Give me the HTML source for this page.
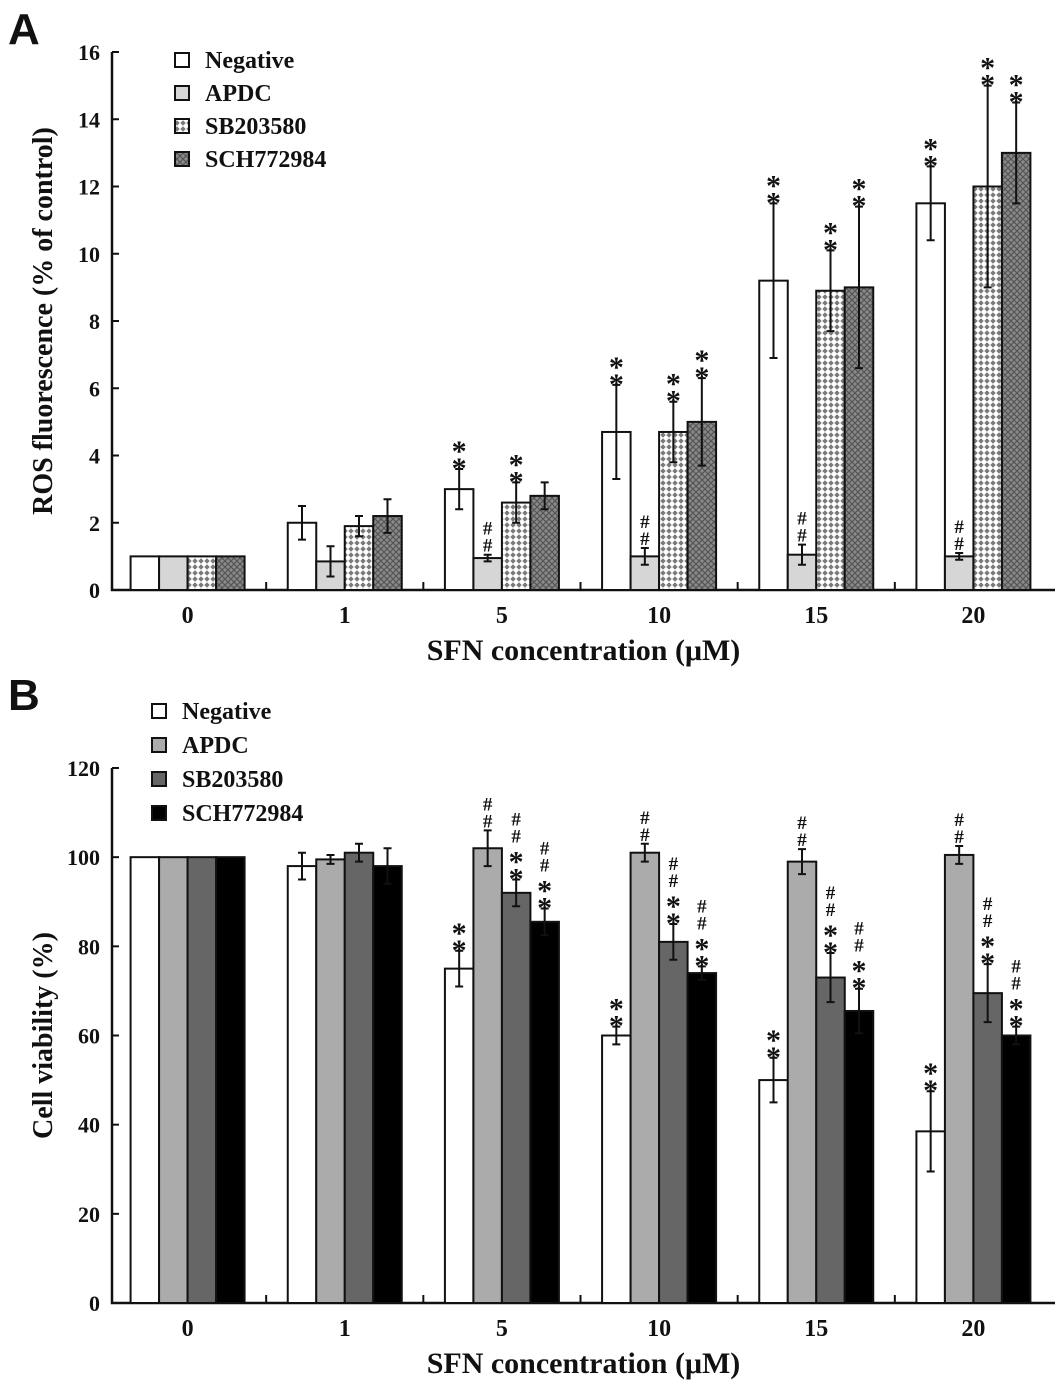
<!DOCTYPE html>
<html><head><meta charset="utf-8"><style>
html,body{margin:0;padding:0;background:#fff;}
svg text{font-family:"Liberation Serif",serif;font-weight:bold;fill:#111;}
</style></head><body>
<svg id="chart" width="1063" height="1393" viewBox="0 0 1063 1393" xmlns="http://www.w3.org/2000/svg">
<defs>
<pattern id="pSB" width="6" height="6" patternUnits="userSpaceOnUse">
<rect width="6" height="6" fill="#fff"/><path d="M3 0.3 L5.7 3 L3 5.7 L0.3 3Z" fill="#7a7a7a"/>
</pattern>
<pattern id="pSCH" width="6" height="6" patternUnits="userSpaceOnUse">
<rect width="6" height="6" fill="#8a8a8a"/><path d="M0 0L6 6M6 0L0 6" stroke="#555" stroke-width="1.2"/>
</pattern>
</defs>
<g id="panelA"></g>
<g id="panelB"></g>
</svg>
<script>
const categories=["0","1","5","10","15","20"];
const seriesNames=["Negative","APDC","SB203580","SCH772984"];
// Panel A
const aNeg=[1,2,3,4.7,9.2,11.5];
const aNegErr=[0,0.5,0.6,1.4,2.3,1.1];
const aAPDC=[1,0.85,0.95,1.0,1.05,1.0];
const aAPDCErr=[0,0.45,0.1,0.25,0.3,0.1];
const aSB=[1,1.9,2.6,4.7,8.9,12];
const aSBErr=[0,0.3,0.6,0.9,1.2,3];
const aSCH=[1,2.2,2.8,5,9,13];
const aSCHErr=[0,0.5,0.4,1.3,2.4,1.5];
const aTicks=[0,2,4,6,8,10,12,14,16];
const aMarks=[["","","",""],["","","",""],["**","##","**",""],["**","##","**","**"],["**","##","**","**"],["**","##","**","**"]];
// Panel B
const bNeg=[100,98,75,60,50,38.5];
const bNegErr=[0,3,4,2,5,9];
const bAPDC=[100,99.5,102,101,99,100.5];
const bAPDCErr=[0,1,4,2,2.8,2];
const bSB=[100,101,92,81,73,69.5];
const bSBErr=[0,2,3,4,5.5,6.5];
const bSCH=[100,98,85.5,74,65.5,60];
const bSCHErr=[0,4,3,1.5,5,2];
const bTicks=[0,20,40,60,80,100,120];
const bMarks=[["","","",""],["","","",""],["**","##","##**","##**"],["**","##","##**","##**"],["**","##","##**","##**"],["**","##","##**","##**"]];

const NS="http://www.w3.org/2000/svg";
function mk(parent,tag,attrs,text){const e=document.createElementNS(NS,tag);for(const k in attrs)e.setAttribute(k,attrs[k]);if(text!==undefined)e.textContent=text;parent.appendChild(e);return e;}

function drawPanel(g,cfg){
  const x0=112,x1=1055,bw=28.5;
  const yScale=v=>cfg.y0-(v-cfg.min)/(cfg.max-cfg.min)*(cfg.y0-cfg.yTop);
  const step=(x1-x0)/categories.length;
  const xC=i=>x0-3+step*(i+0.5);
  const ax=mk(g,"path",{d:`M${x0} ${cfg.yTop} V${cfg.y0} H${x1}`,fill:"none",stroke:"#111","stroke-width":2.5});
  
  
  cfg.ticks.forEach(t=>{
    const y=yScale(t);
    const tk=mk(g,"line",{x1:x0,x2:x0+7,y1:y,y2:y,stroke:"#111","stroke-width":2});
    
    
    const tl=mk(g,"text",{x:x0-12,y:y+8,"text-anchor":"end","font-size":22},t);
    
    
  });
  for(let i=1;i<categories.length;i++){
    const x=x0-3+step*i;
    const tk=mk(g,"line",{x1:x,x2:x,y1:cfg.y0,y2:cfg.y0-8,stroke:"#111","stroke-width":2});
    
    
  }
  categories.forEach((c,i)=>{
    const tl=mk(g,"text",{x:xC(i),y:cfg.y0+33,"text-anchor":"middle","font-size":24},c);
    
    
    cfg.series.forEach((s,j)=>{
      const bx=xC(i)-2*bw+j*bw;
      const v=s.vals[i],e=s.errs[i];
      const yt=yScale(v);
      const r=mk(g,"rect",{x:bx,y:yt,width:bw,height:cfg.y0-yt,fill:s.fill,stroke:"#111","stroke-width":2});
      
      
      const cx=bx+bw/2;
      let top=yt;
      if(e>0){
        const ya=yScale(v+e),yb=yScale(v-e);top=ya;
        const eb=mk(g,"path",{d:`M${cx} ${ya}V${yb}M${cx-4} ${ya}H${cx+4}M${cx-4} ${yb}H${cx+4}`,stroke:"#111","stroke-width":2,fill:"none"});
        
        
      }
      const m=cfg.marks[i][j];
      for(let k=0;k<m.length;k++){
        const ch=m[m.length-1-k];
        const yy=top-3-k*17;
        const t=mk(g,"text",{x:cx,y:ch==="*"?yy+12:yy,"text-anchor":"middle","font-size":ch==="*"?30:19,"font-weight":"normal"},ch);
        
        
      }
    });
  });
  const xt=mk(g,"text",{x:(x0+x1)/2,y:cfg.y0+70,"text-anchor":"middle","font-size":30},"SFN concentration (μM)");
  
  
  const yc=(cfg.y0+cfg.yTop)/2;
  const yt=mk(g,"text",{x:0,y:0,transform:`translate(52 ${yc}) rotate(-90)`,"text-anchor":"middle","font-size":cfg.yTitleSize},cfg.yTitle);
  
  
  const pl=mk(g,"text",{x:8,y:cfg.letterY,"font-size":44,style:"font-family:'Liberation Sans',sans-serif"},cfg.letter);
  
  
  cfg.series.forEach((s,j)=>{
    const ly=cfg.legY+j*cfg.legStep;
    const sq=mk(g,"rect",{x:cfg.legX,y:ly-7,width:14,height:14,fill:s.fill,stroke:"#111","stroke-width":2});
    
    
    const lt=mk(g,"text",{x:cfg.legX+30,y:ly+8,"font-size":24},seriesNames[j]);
    
    
  });
}
drawPanel(document.getElementById("panelA"),{
  y0:590,yTop:52,min:0,max:16,ticks:aTicks,marks:aMarks,
  yTitle:"ROS fluorescence (% of control)",yTitleSize:28,letter:"A",letterY:44,
  legX:175,legY:60,legStep:33,
  series:[{vals:aNeg,errs:aNegErr,fill:"#fff"},{vals:aAPDC,errs:aAPDCErr,fill:"#d6d6d6"},{vals:aSB,errs:aSBErr,fill:"url(#pSB)"},{vals:aSCH,errs:aSCHErr,fill:"url(#pSCH)"}]
});
drawPanel(document.getElementById("panelB"),{
  y0:1303,yTop:768,min:0,max:120,ticks:bTicks,marks:bMarks,
  yTitle:"Cell viability (%)",yTitleSize:28,letter:"B",letterY:710,
  legX:152,legY:711,legStep:34,
  series:[{vals:bNeg,errs:bNegErr,fill:"#fff"},{vals:bAPDC,errs:bAPDCErr,fill:"#ababab"},{vals:bSB,errs:bSBErr,fill:"#666"},{vals:bSCH,errs:bSCHErr,fill:"#000"}]
});
</script>
</body></html>
